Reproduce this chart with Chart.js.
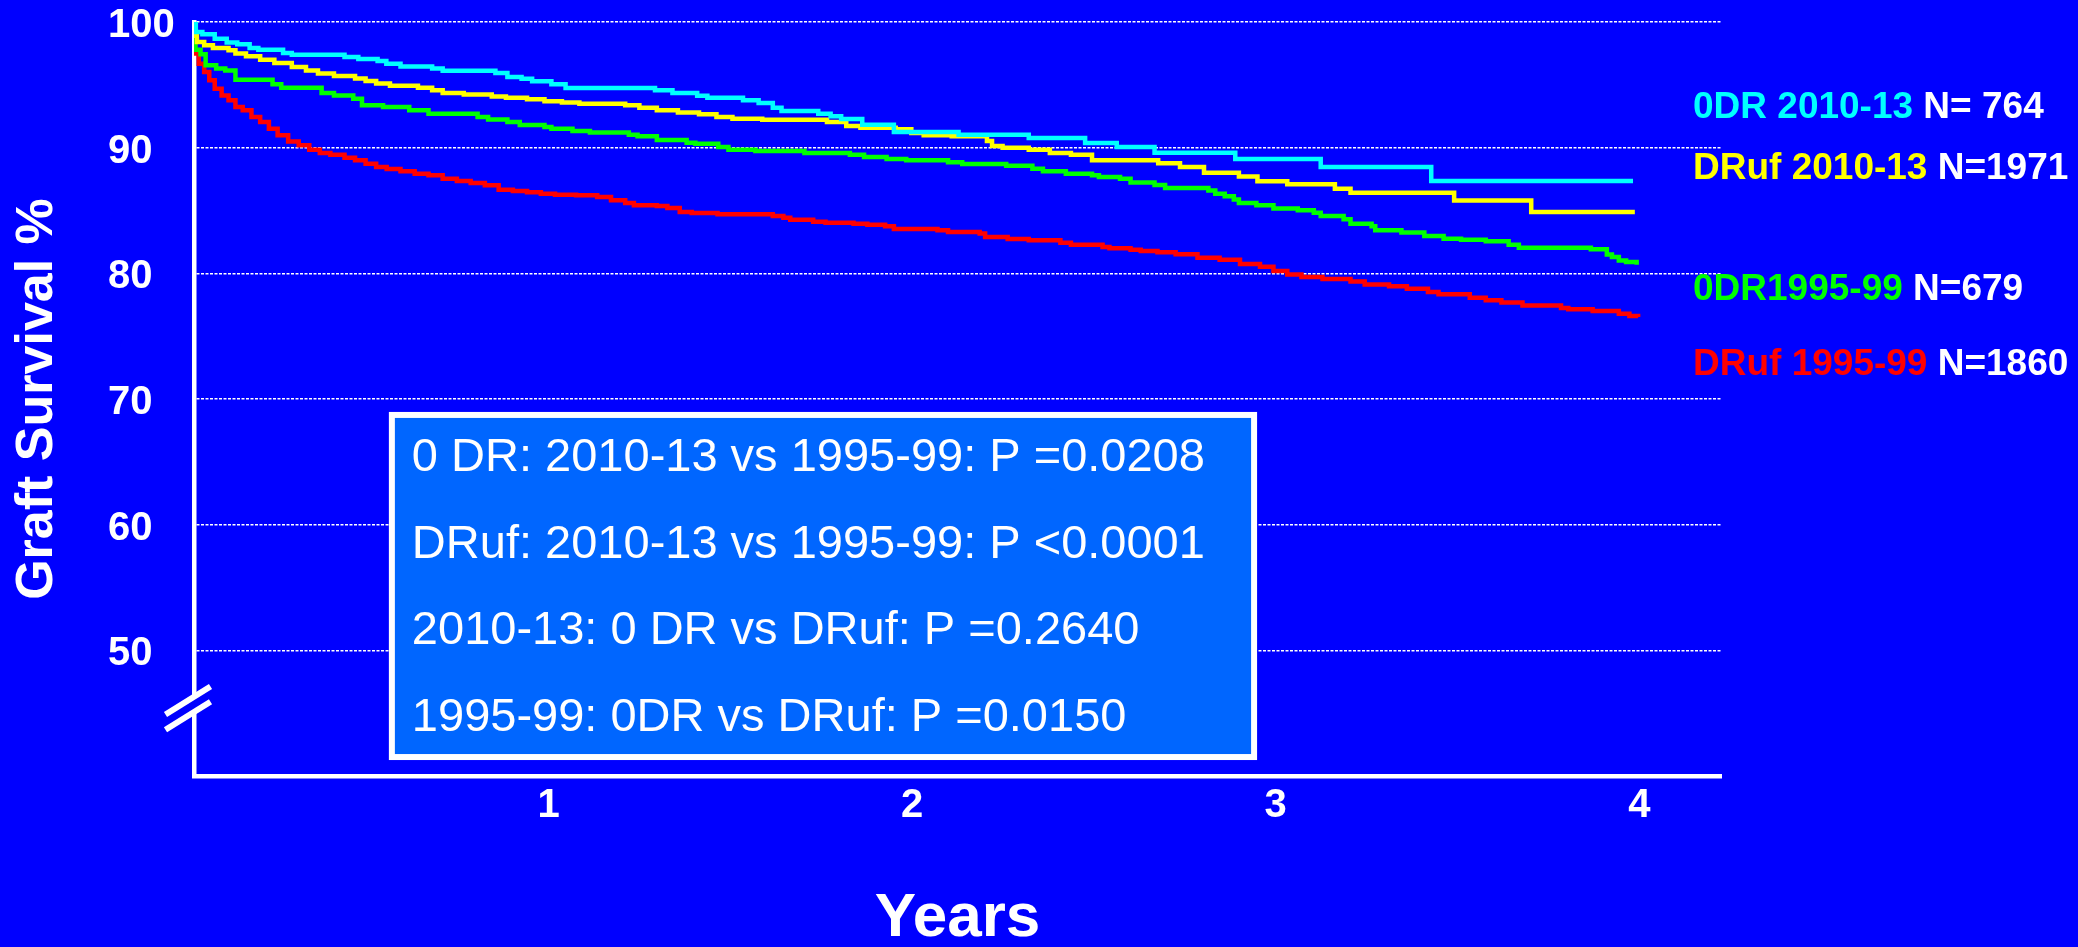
<!DOCTYPE html>
<html>
<head>
<meta charset="utf-8">
<script src="https://cdn.jsdelivr.net/npm/chart.js@4/dist/chart.umd.min.js"></script>
<style>
html,body{margin:0;padding:0;background:#0000FF;overflow:hidden;}
canvas{display:block;background:#0000FF;}
</style>
</head>
<body>
<canvas id="c" width="2078" height="947"></canvas>
<script>
// ---------- data ----------
const xTickValues = [1, 2, 3, 4];
const yTickValues = [50, 60, 70, 80, 90, 100];

const odr2010Years = [0, 0.005, 0.023, 0.057, 0.090, 0.119, 0.153, 0.177, 0.245, 0.269, 0.414, 0.452, 0.505, 0.529, 0.568, 0.655, 0.684, 0.829, 0.862, 0.901, 0.930, 0.983, 1.022, 1.268, 1.316, 1.384, 1.412, 1.510, 1.553, 1.592, 1.616, 1.717, 1.751, 1.780, 1.838, 1.925, 2.103, 2.296, 2.451, 2.538, 2.642, 2.864, 3.099, 3.403, 3.958];
const odr2010Surv  = [100, 99.2, 99.02, 98.67, 98.36, 98.22, 97.93, 97.8, 97.53, 97.4, 97.21, 97.06, 96.9, 96.68, 96.45, 96.29, 96.13, 95.94, 95.62, 95.49, 95.28, 95.04, 94.75, 94.56, 94.35, 94.14, 93.98, 93.77, 93.55, 93.18, 92.92, 92.7, 92.5, 92.28, 91.83, 91.25, 91.03, 90.77, 90.37, 90.05, 89.6, 89.1, 88.46, 87.35, 87.35];

const druf2010Years = [0, 0.002, 0.008, 0.028, 0.052, 0.095, 0.114, 0.143, 0.182, 0.221, 0.269, 0.308, 0.341, 0.385, 0.443, 0.472, 0.501, 0.539, 0.616, 0.655, 0.684, 0.742, 0.819, 0.858, 0.916, 0.964, 1.012, 1.060, 1.186, 1.225, 1.273, 1.331, 1.389, 1.437, 1.481, 1.563, 1.741, 1.794, 1.833, 1.930, 1.973, 2.007, 2.084, 2.181, 2.195, 2.224, 2.296, 2.354, 2.412, 2.470, 2.652, 2.712, 2.778, 2.874, 2.925, 3.007, 3.138, 3.181, 3.466, 3.678, 3.963];
const druf2010Surv  = [100, 98.9, 98.4, 98.14, 97.93, 97.75, 97.5, 97.27, 97.0, 96.74, 96.42, 96.15, 95.9, 95.7, 95.5, 95.3, 95.1, 94.93, 94.77, 94.56, 94.35, 94.24, 94.08, 93.98, 93.85, 93.7, 93.6, 93.5, 93.37, 93.18, 92.97, 92.8, 92.65, 92.44, 92.3, 92.23, 92.04, 91.72, 91.59, 91.46, 91.17, 90.98, 90.9, 90.53, 90.13, 90.0, 89.84, 89.58, 89.44, 89.0, 88.76, 88.46, 88.0, 87.7, 87.32, 87.08, 86.74, 86.42, 85.8, 84.88, 84.88];

const odr1995Years = [0, 0.004, 0.018, 0.032, 0.061, 0.086, 0.114, 0.216, 0.240, 0.351, 0.385, 0.438, 0.462, 0.520, 0.592, 0.645, 0.780, 0.809, 0.862, 0.896, 0.964, 0.983, 1.041, 1.089, 1.196, 1.220, 1.273, 1.355, 1.379, 1.442, 1.470, 1.544, 1.679, 1.804, 1.843, 1.905, 1.959, 2.074, 2.113, 2.234, 2.306, 2.335, 2.398, 2.470, 2.489, 2.547, 2.576, 2.642, 2.671, 2.790, 2.809, 2.835, 2.860, 2.874, 2.922, 2.969, 3.036, 3.080, 3.099, 3.162, 3.181, 3.239, 3.249, 3.321, 3.384, 3.437, 3.485, 3.553, 3.616, 3.644, 3.842, 3.886, 3.900, 3.919, 3.939, 3.968];
const odr1995Surv  = [100, 97.8, 97.43, 96.55, 96.29, 96.15, 95.4, 95.04, 94.77, 94.35, 94.16, 93.9, 93.37, 93.24, 92.97, 92.7, 92.44, 92.25, 92.04, 91.8, 91.64, 91.5, 91.33, 91.2, 91.03, 90.9, 90.61, 90.4, 90.32, 90.05, 89.84, 89.73, 89.58, 89.44, 89.26, 89.1, 89.0, 88.83, 88.7, 88.57, 88.33, 88.12, 87.93, 87.8, 87.67, 87.53, 87.22, 87.02, 86.8, 86.6, 86.34, 86.13, 85.88, 85.6, 85.41, 85.15, 85.01, 84.83, 84.56, 84.3, 83.95, 83.74, 83.42, 83.24, 82.97, 82.76, 82.68, 82.55, 82.28, 82.04, 81.91, 81.49, 81.3, 81.03, 80.9, 80.69];

const druf1995Years = [0, 0.003, 0.013, 0.028, 0.042, 0.057, 0.076, 0.095, 0.114, 0.134, 0.158, 0.182, 0.206, 0.230, 0.259, 0.288, 0.317, 0.346, 0.375, 0.414, 0.443, 0.472, 0.501, 0.530, 0.568, 0.607, 0.645, 0.684, 0.723, 0.761, 0.800, 0.838, 0.877, 0.916, 0.954, 0.993, 1.051, 1.109, 1.147, 1.186, 1.210, 1.273, 1.302, 1.336, 1.369, 1.440, 1.592, 1.621, 1.640, 1.703, 1.737, 1.814, 1.852, 1.901, 1.925, 2.045, 2.074, 2.161, 2.176, 2.238, 2.296, 2.383, 2.412, 2.499, 2.518, 2.576, 2.604, 2.650, 2.700, 2.760, 2.821, 2.877, 2.932, 2.969, 3.007, 3.046, 3.104, 3.181, 3.220, 3.287, 3.336, 3.394, 3.423, 3.509, 3.553, 3.596, 3.654, 3.760, 3.780, 3.847, 3.919, 3.948, 3.972];
const druf1995Surv  = [100, 97.5, 96.68, 96.02, 95.36, 94.69, 94.16, 93.77, 93.24, 92.97, 92.44, 92.04, 91.51, 90.98, 90.5, 90.19, 89.84, 89.58, 89.44, 89.2, 88.99, 88.73, 88.46, 88.3, 88.12, 87.93, 87.8, 87.53, 87.35, 87.19, 87.0, 86.66, 86.55, 86.45, 86.34, 86.26, 86.21, 86.07, 85.81, 85.6, 85.41, 85.36, 85.2, 84.88, 84.8, 84.7, 84.56, 84.43, 84.27, 84.11, 84.03, 83.95, 83.87, 83.74, 83.53, 83.42, 83.29, 83.16, 82.89, 82.73, 82.63, 82.44, 82.28, 82.1, 81.99, 81.88, 81.78, 81.67, 81.51, 81.25, 81.09, 80.75, 80.53, 80.19, 79.9, 79.71, 79.55, 79.36, 79.12, 78.97, 78.78, 78.51, 78.33, 78.06, 77.85, 77.67, 77.45, 77.24, 77.14, 77.0, 76.79, 76.6, 76.53];

const groupNames = ['0DR 2010-13 ', 'DRuf 2010-13 ', '0DR1995-99 ', 'DRuf 1995-99 '];
const groupN = ['N= 764', 'N=1971', 'N=679', 'N=1860'];

const statsLines = [
  '0 DR: 2010-13 vs 1995-99: P =0.0208',
  'DRuf: 2010-13 vs 1995-99: P <0.0001',
  '2010-13: 0 DR vs DRuf: P =0.2640',
  '1995-99: 0DR vs DRuf: P =0.0150'
];

// ---------- styling ----------
const FONT = '"Liberation Sans", Arial, Helvetica, sans-serif';
const seriesColors = ['#00FFFF', '#FFFF00', '#00FF00', '#FF0000'];
const seriesYears = [odr2010Years, druf2010Years, odr1995Years, druf1995Years];
const seriesSurv = [odr2010Surv, druf2010Surv, odr1995Surv, druf1995Surv];

const toPoints = (xs, ys) => xs.map((x, i) => ({ x: x, y: ys[i] }));

const datasets = seriesYears.map((xs, k) => ({
  label: groupNames[k].trim(),
  data: toPoints(xs, seriesSurv[k]),
  borderColor: seriesColors[k],
  backgroundColor: seriesColors[k],
  borderWidth: 4.5,
  pointRadius: 0,
  stepped: true,
  fill: false,
  xAxisID: 'x',
  yAxisID: 'y'
}));

const overlayPlugin = {
  id: 'overlay',
  afterDraw(chart) {
    const { ctx, chartArea, scales } = chart;
    const xs = scales.x, ys = scales.y;
    ctx.save();

    // axis break mark "//"
    const cx = xs.getPixelForValue(0) - 6;
    const cy = ys.getPixelForValue(45.4);
    const dx = 22.5, dy = 14;
    ctx.lineCap = 'butt';
    ctx.strokeStyle = '#0000FF';
    ctx.lineWidth = 9;
    ctx.beginPath(); ctx.moveTo(cx - dx, cy + dy); ctx.lineTo(cx + dx, cy - dy); ctx.stroke();
    ctx.strokeStyle = '#FFFFFF';
    ctx.lineWidth = 6;
    [-7.6, 7.6].forEach(off => {
      ctx.beginPath(); ctx.moveTo(cx - dx, cy + dy + off); ctx.lineTo(cx + dx, cy - dy + off); ctx.stroke();
    });

    // statistics box
    const bx0 = xs.getPixelForValue(0.536), bx1 = xs.getPixelForValue(2.924);
    const by0 = ys.getPixelForValue(68.97), by1 = ys.getPixelForValue(41.27);
    const bw = 6;
    ctx.fillStyle = '#FFFFFF';
    ctx.fillRect(bx0, by0, bx1 - bx0, by1 - by0);
    ctx.fillStyle = '#0066FF';
    ctx.fillRect(bx0 + bw, by0 + bw, bx1 - bx0 - 2 * bw, by1 - by0 - 2 * bw);
    ctx.fillStyle = '#FFFFFF';
    ctx.font = '47px ' + FONT;
    ctx.textAlign = 'left';
    ctx.textBaseline = 'alphabetic';
    statsLines.forEach((t, i) => ctx.fillText(t, bx0 + 23, by0 + 59 + i * 86.7));

    // group labels on the right
    const lx = chartArea.right - 28;
    const lOffsets = [96, 157, 278, 353];
    ctx.font = 'bold 37px ' + FONT;
    groupNames.forEach((name, i) => {
      const by = chartArea.top + lOffsets[i];
      ctx.fillStyle = seriesColors[i];
      ctx.fillText(name, lx, by);
      const w = ctx.measureText(name).width;
      ctx.fillStyle = '#FFFFFF';
      ctx.fillText(groupN[i], lx + w, by);
    });
    ctx.restore();
  }
};

Chart.defaults.font.family = FONT;
Chart.defaults.color = '#FFFFFF';

new Chart(document.getElementById('c'), {
  type: 'line',
  data: { datasets: datasets },
  options: {
    responsive: false,
    animation: false,
    devicePixelRatio: 1,
    layout: { padding: { left: 0, top: 22, right: 357, bottom: 0 } },
    plugins: { legend: { display: false }, tooltip: { enabled: false } },
    scales: {
      x: {
        type: 'linear',
        position: 'bottom',
        min: 0,
        max: 4.2,
        afterBuildTicks: s => { s.ticks = xTickValues.map(v => ({ value: v })); },
        afterFit: s => { s.height = 171; s.paddingLeft = 0; s.paddingRight = 0; },
        grid: { drawOnChartArea: false, drawTicks: false, color: '#FFFFFF' },
        border: { display: true, color: '#FFFFFF', width: 4.5 },
        ticks: {
          color: '#FFFFFF',
          font: { size: 40, weight: 'bold' },
          padding: 6,
          labelOffset: -9,
          autoSkip: false,
          maxRotation: 0
        },
        title: {
          display: true,
          text: 'Years',
          color: '#FFFFFF',
          font: { size: 62, weight: 'bold', lineHeight: 0.85 },
          padding: { top: 0, bottom: 2 }
        }
      },
      y: {
        type: 'linear',
        position: 'left',
        weight: 0,
        min: 40,
        max: 100,
        afterBuildTicks: s => { s.ticks = yTickValues.map(v => ({ value: v })); },
        afterFit: s => { s.width = 86; s.paddingTop = 0; s.paddingBottom = 0; },
        grid: { color: '#FFFFFF', lineWidth: 1.5, drawTicks: false },
        border: { display: true, color: '#FFFFFF', width: 4.5, dash: [3, 1.5] },
        ticks: {
          color: '#FFFFFF',
          font: { size: 40, weight: 'bold' },
          padding: 19,
          crossAlign: 'far',
          labelOffset: 4
        }
      },
      yTitle: {
        type: 'linear',
        position: 'left',
        weight: 1,
        display: true,
        min: 0,
        max: 1,
        afterFit: s => { s.width = 108; s.paddingTop = 0; s.paddingBottom = 0; },
        grid: { display: false, drawTicks: false },
        border: { display: false },
        ticks: { display: false },
        title: {
          display: true,
          text: 'Graft Survival %',
          color: '#FFFFFF',
          font: { size: 52, weight: 'bold' },
          padding: { top: 6, bottom: 0 }
        }
      }
    }
  },
  plugins: [overlayPlugin]
});
</script>
</body>
</html>
